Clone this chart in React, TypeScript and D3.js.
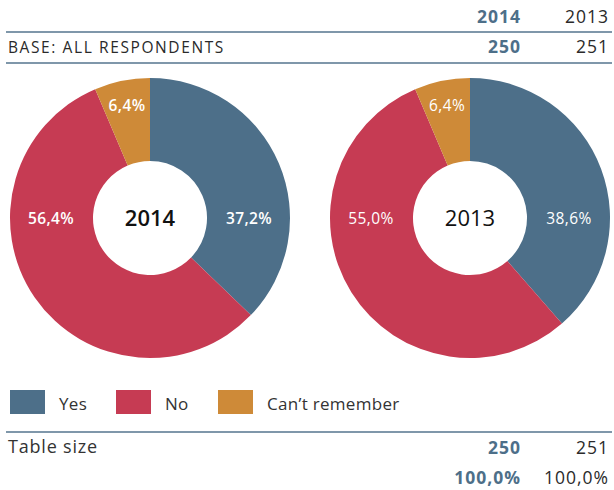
import React from "react";
import * as d3 from "d3";

const categories = ["Yes", "No", "Can\u2019t remember"];
const colors = ["#4D6F89", "#C63B53", "#CE8A38"];
const years = ["2014", "2013"];
const values2014 = [37.2, 56.4, 6.4];
const values2013 = [38.6, 55.0, 6.4];
const baseValues = [250, 251];
const totalLabels = ["100,0%", "100,0%"];

const W = 614;
const H = 490;
const FONT = "'Open Sans', sans-serif";
const LINE = "#7F97AA";
const BLUE = "#4D6F89";
const DARK = "#2a2a2a";

const fmt = (v: number) => v.toFixed(1).replace(".", ",") + "%";

function Donut({ cx, cy, values, year, strong }: { cx: number; cy: number; values: number[]; year: string; strong: boolean }) {
  const outer = 140;
  const inner = 57;
  const pie = d3.pie<number>().sort(null).value((d) => d);
  const arcs = pie(values);
  const arc = d3.arc<d3.PieArcDatum<number>>().innerRadius(inner).outerRadius(outer);
  return (
    <g transform={`translate(${cx},${cy})`}>
      {arcs.map((a, i) => (
        <path key={i} d={arc(a) || ""} fill={colors[i]} />
      ))}
      {arcs.map((a, i) => {
        let ang = (a.startAngle + a.endAngle) / 2;
        let r = 115;
        if (a.startAngle <= Math.PI / 2 && a.endAngle >= Math.PI / 2) {
          ang = Math.PI / 2;
          r = 99;
        } else if (a.startAngle <= (3 * Math.PI) / 2 && a.endAngle >= (3 * Math.PI) / 2) {
          ang = (3 * Math.PI) / 2;
          r = 99;
        }
        const x = r * Math.sin(ang);
        const y = -r * Math.cos(ang);
        return (
          <text key={i} x={x} y={y} dy="0.36em" textAnchor="middle" fill="#fff" fontSize={15.5}
            letterSpacing={0.4} fontFamily={FONT} fontWeight={strong ? 600 : 400}>
            {fmt(a.data)}
          </text>
        );
      })}
      <text x={0} y={0} dy="0.36em" textAnchor="middle" fontSize={22} fontFamily={FONT} fill="#111"
        fontWeight={strong ? 600 : 400}>
        {year}
      </text>
    </g>
  );
}

export default function App() {
  const colX = [521, 609];
  const legendX = [10, 116, 218];
  const numStyle = (i: number) => ({
    fontFamily: FONT,
    fontWeight: i === 0 ? 700 : 400,
    fill: i === 0 ? BLUE : DARK,
  });
  return (
    <svg width={W} height={H} style={{ position: "absolute", left: 0, top: 0, background: "#fff" }}>
      {years.map((y, i) => (
        <text key={y} x={colX[i]} y={23} textAnchor="end" fontSize={17.5} letterSpacing={1} {...numStyle(i)}>
          {y}
        </text>
      ))}
      <line x1={6} x2={612} y1={32} y2={32} stroke={LINE} strokeWidth={2} />
      <text x={8} y={53} fontSize={15.5} letterSpacing={1.6} fontFamily={FONT} fill={DARK}>BASE: ALL RESPONDENTS</text>
      {baseValues.map((v, i) => (
        <text key={i} x={colX[i]} y={53} textAnchor="end" fontSize={17.5} letterSpacing={1} {...numStyle(i)}>
          {v}
        </text>
      ))}
      <line x1={6} x2={612} y1={63} y2={63} stroke={LINE} strokeWidth={2} />

      <Donut cx={150} cy={218} values={values2014} year={years[0]} strong={true} />
      <Donut cx={470} cy={218} values={values2013} year={years[1]} strong={false} />

      {categories.map((c, i) => (
        <g key={c}>
          <rect x={legendX[i]} y={390} width={35} height={24} fill={colors[i]} />
          <text x={legendX[i] + 49} y={410} fontSize={17} letterSpacing={0.3} fontFamily={FONT} fill="#333">{c}</text>
        </g>
      ))}

      <line x1={6} x2={612} y1={432} y2={432} stroke={LINE} strokeWidth={2} />
      <text x={8} y={453} fontSize={18} letterSpacing={0.8} fontFamily={FONT} fill="#333">Table size</text>
      {baseValues.map((v, i) => (
        <text key={i} x={colX[i]} y={454} textAnchor="end" fontSize={17.5} letterSpacing={1} {...numStyle(i)}>
          {v}
        </text>
      ))}
      {totalLabels.map((v, i) => (
        <text key={i} x={colX[i]} y={484} textAnchor="end" fontSize={17.5} letterSpacing={1} {...numStyle(i)}>
          {v}
        </text>
      ))}
    </svg>
  );
}
